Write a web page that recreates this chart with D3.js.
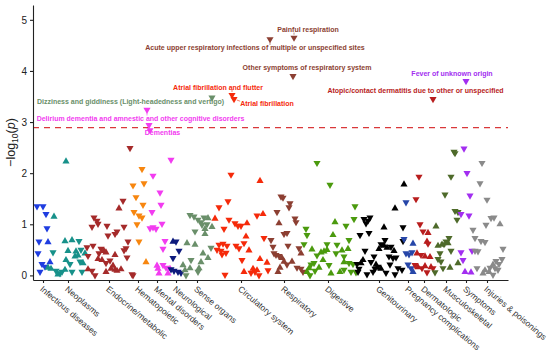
<!DOCTYPE html>
<html>
<head>
<meta charset="utf-8">
<script src="https://cdn.jsdelivr.net/npm/d3@7"></script>
<style>
  body { margin: 0; background: #ffffff; }
  svg { font-family: "Liberation Sans", Arial, sans-serif; }
</style>
</head>
<body>
<svg id="chart" width="550" height="356"></svg>
<script>
// Phenotype categories, colours and the order position of each category tick
var categories = ["Infectious diseases", "Neoplasms", "Endocrine/metabolic", "Hematopoietic",
    "Mental disorders", "Neurological", "Sense organs", "Circulatory system", "Respiratory",
    "Digestive", "Genitourinary", "Pregnancy complications", "Dermatologic", "Musculoskeletal",
    "Symptoms", "Injuries & poisonings"];
var catColors = ["#1f3de0", "#17918a", "#a52a2a", "#f7860f", "#f23cf0", "#0d1a7d", "#6a8f6a",
    "#f52a0a", "#8c3f32", "#4b9a0e", "#000000", "#2646a8", "#b81d1d", "#4e6a2a", "#a22ef0", "#8a8a8a"];
var catTicks = [10, 35, 76, 105, 124, 143, 164, 208, 251, 295, 346, 375, 391, 413, 433, 454];

// Points of each category: [phenotype order, -log10(p), direction (1 = up, 0 = down)]
var infectious = [[4,1.35,0],[10,1.35,0],[13,1.20,0],[14,0.92,0],[6,0.66,0],[15,0.65,1],[5,0.43,0],
    [9,0.22,0],[17,0.26,1],[12,0.17,0],[7,0.07,0]];
var neoplasms = [[33,2.23,1],[21,1.15,1],[20,0.45,0],[32,0.67,1],[39,0.69,1],[46,0.67,0],[35,0.48,1],
    [43,0.47,1],[48,0.50,0],[42,0.37,1],[45,0.39,1],[52,0.43,1],[33,0.30,1],[47,0.27,0],[37,0.22,0],
    [50,0.24,1],[18,0.13,1],[23,0.09,0],[27,0.04,0],[29,0.07,0],[32,0.11,1],[39,0.07,0],[49,0.07,0],
    [15,0.15,1],[25,0.02,1]];
var endocrine = [[97,2.49,0],[90,1.46,0],[86,1.31,1],[61,1.13,0],[64,1.07,0],[65,1.01,0],[74,0.97,0],
    [59,0.95,0],[91,0.95,0],[84,0.86,0],[82,0.81,0],[75,0.78,0],[95,0.66,0],[54,0.55,0],[60,0.58,0],
    [68,0.52,0],[71,0.48,1],[93,0.53,0],[91,0.49,0],[66,0.43,0],[73,0.45,1],[55,0.38,0],[82,0.40,1],
    [94,0.35,0],[65,0.32,1],[69,0.30,1],[77,0.29,0],[73,0.24,0],[80,0.19,1],[55,0.12,1],[59,0.09,0],
    [62,0.00,0],[73,0.07,1],[78,0.13,1],[82,0.11,1],[84,0.09,1],[88,0.12,1],[99,0.02,0],[100,0.00,0]];
var hematopoietic = [[109,2.08,0],[100,1.76,0],[111,1.80,0],[103,1.53,0],[110,1.38,0],[101,1.24,0],
    [106,1.17,0],[109,1.13,0],[104,1.00,0],[106,0.66,0],[113,0.26,1]];
var mental = [[114,3.24,0],[116,2.94,0],[117,2.84,0],[138,2.26,0],[120,1.95,0],[127,1.62,0],[128,1.38,0],
    [119,1.24,0],[129,1.01,0],[117,0.92,0],[120,0.94,0],[123,0.91,0],[132,0.67,0],[130,0.52,0],
    [124,0.19,1],[125,0.13,1],[133,0.15,0],[137,0.13,1],[126,0.04,1],[135,0.04,1],[130,0.20,0]];
var neurological = [[140,0.66,1],[143,0.66,0],[146,0.48,0],[140,0.34,0],[138,0.12,0],[141,0.09,0],
    [145,0.07,0],[148,0.05,0]];
var senseOrgans = [[179,3.48,0],[157,1.18,0],[161,1.15,0],[165,1.09,0],[168,1.04,0],[171,1.13,0],
    [175,1.12,1],[169,0.99,0],[174,1.00,0],[179,0.95,1],[172,0.91,1],[162,0.86,0],[172,0.81,1],
    [178,0.54,0],[170,0.43,1],[158,0.30,0],[168,0.26,1],[157,0.14,1],[166,0.14,1],[165,0.07,0],
    [154,0.63,1],[150,0.20,1],[152,0.10,1],[153,0.00,0],[162,0.60,1],[175,0.34,1]];
var circulatory = [[199,3.53,0],[201,3.45,0],[198,1.97,0],[227,1.85,1],[195,1.45,0],[186,1.33,0],
    [182,1.11,1],[196,1.09,0],[202,1.02,0],[208,0.97,0],[214,1.02,1],[224,1.17,0],[230,1.20,1],
    [191,0.91,0],[213,0.76,1],[231,0.73,0],[186,0.60,0],[190,0.62,0],[194,0.58,0],[203,0.58,0],
    [206,0.53,0],[211,0.63,0],[184,0.50,0],[188,0.48,0],[189,0.41,0],[193,0.44,0],[216,0.49,1],
    [227,0.32,1],[234,0.25,1],[220,0.13,1],[222,0.07,0],[224,0.10,1],[211,0.07,1],[192,0.01,0],
    [218,0.05,0],[235,0.10,0],[226,0.00,0],[209,0.30,0],[205,0.97,0]];
var respiratory = [[237,4.62,0],[261,4.65,0],[260,3.90,0],[248,1.54,0],[250,1.52,0],[257,1.41,0],
    [256,1.33,0],[244,1.24,0],[262,1.11,0],[263,1.04,0],[246,1.02,1],[251,0.81,0],[254,0.83,0],
    [238,0.69,0],[255,0.58,0],[241,0.43,0],[243,0.40,0],[246,0.38,0],[266,0.53,0],[268,0.43,1],
    [249,0.34,1],[251,0.27,1],[259,0.27,1],[254,0.21,0],[264,0.15,0],[268,0.13,0],[270,0.07,0],
    [245,0.07,1],[240,0.56,0],[247,0.15,1]];
var digestive = [[284,2.20,0],[297,1.77,0],[302,1.04,1],[273,0.91,0],[274,0.79,0],[300,0.79,1],
    [271,0.61,0],[294,0.61,0],[304,0.60,0],[279,0.51,1],[288,0.45,1],[291,0.47,1],[294,0.50,1],
    [303,0.43,0],[284,0.39,0],[290,0.30,1],[281,0.24,0],[278,0.21,0],[276,0.14,1],[274,0.07,1],
    [282,0.09,0],[286,0.15,1],[298,0.04,1],[307,0.07,1],[322,1.35,0],[321,1.10,0],[313,0.97,0],
    [316,0.69,0],[315,0.52,1],[309,0.49,1],[311,0.37,0],[311,0.26,1],[316,0.24,0],[320,0.22,0],
    [311,0.11,0],[318,0.07,0],[323,0.06,0],[296,0.20,0],[277,0.00,0]];
var genitourinary = [[371,1.78,1],[362,1.31,1],[331,1.10,0],[335,1.07,0],[337,1.13,0],[333,1.02,0],
    [351,0.94,1],[370,0.94,0],[327,0.79,0],[336,0.83,0],[352,0.69,0],[370,0.67,0],[348,0.61,0],
    [351,0.58,1],[354,0.54,1],[358,0.56,0],[346,0.52,1],[332,0.48,0],[361,0.48,1],[356,0.37,0],
    [360,0.34,0],[363,0.35,0],[341,0.37,0],[330,0.30,1],[338,0.26,0],[343,0.21,1],[345,0.17,0],
    [357,0.21,0],[365,0.14,0],[369,0.11,0],[324,0.22,0],[328,0.24,1],[326,0.13,0],[325,0.07,0],
    [340,0.07,0],[342,0.13,0],[348,0.13,1],[353,0.05,0],[362,0.02,0],[334,0.02,0]];
var pregnancy = [[373,1.43,0],[371,0.71,0],[380,0.62,1],[373,0.43,0],[376,0.41,0],[379,0.45,0],
    [375,0.21,0],[378,0.14,0],[380,0.07,1]];
var dermatologic = [[400,3.45,0],[386,1.93,0],[383,1.49,0],[387,1.00,0],[390,0.86,0],[395,0.83,1],
    [394,0.66,1],[395,0.62,0],[384,0.43,1],[392,0.37,1],[397,0.36,1],[388,0.40,0],[385,0.16,1],
    [389,0.14,0],[392,0.18,1],[398,0.16,1],[400,0.14,0],[382,0.20,0],[394,0.06,0]];
var musculoskeletal = [[421,2.42,0],[422,2.39,0],[418,1.93,0],[412,1.58,0],[422,1.26,0],[425,1.24,0],
    [424,1.09,0],[403,0.96,1],[416,0.73,0],[413,0.66,0],[411,0.61,0],[405,0.58,1],[409,0.60,1],
    [418,0.48,0],[407,0.43,0],[405,0.32,0],[408,0.27,0],[425,0.24,1],[417,0.15,1],[410,0.14,0],
    [402,0.06,0],[415,0.63,1]];
var symptoms = [[433,3.80,0],[431,2.48,0],[434,2.00,0],[437,1.56,0],[428,1.20,0],[436,1.17,0],
    [428,0.45,0],[439,0.48,0],[430,0.30,0],[432,0.07,1],[438,0.06,1]];
var injuries = [[449,2.20,0],[447,1.80,0],[454,1.48,0],[467,1.00,1],[458,1.12,0],[461,1.13,0],
    [453,0.99,0],[440,0.89,0],[442,0.73,0],[448,0.67,0],[452,0.65,0],[470,0.52,0],[442,0.48,0],
    [445,0.47,0],[469,0.32,0],[457,0.15,0],[460,0.21,1],[462,0.14,0],[465,0.11,0],[456,0.07,1],
    [444,0.14,0],[450,0.04,1],[460,0.01,0],[466,0.22,0],[463,0.28,0],[452,0.10,1]];
var pointSets = [infectious, neoplasms, endocrine, hematopoietic, mental, neurological, senseOrgans,
    circulatory, respiratory, digestive, genitourinary, pregnancy, dermatologic, musculoskeletal,
    symptoms, injuries];

var yTicks = [0, 1, 2, 3, 4, 5];
var threshold = 2.89;

// Labelled phenotypes: [text, category index, point index]
var annotations = [
    ["Painful respiration", 8, 1],
    ["Acute upper respiratory infections of multiple or unspecified sites", 8, 0],
    ["Other symptoms of respiratory system", 8, 2],
    ["Atrial fibrillation and flutter", 7, 0],
    ["Atrial fibrillation", 7, 1],
    ["Dizziness and giddiness (Light-headedness and vertigo)", 6, 0],
    ["Delirium dementia and amnestic and other cognitive disorders", 4, 0],
    ["Dementias", 4, 1],
    ["Fever of unknown origin", 14, 0],
    ["Atopic/contact dermatitis due to other or unspecified", 12, 0]
];
// Where each label sits, in data units: [order (centre), -log10(p) (baseline)]
var labelPos = [[275, 4.77], [222, 4.41], [274, 4.01], [185, 3.63], [234, 3.31],
    [97.5, 3.35], [107.5, 3.03], [129.5, 2.74], [419, 3.91], [382.5, 3.56]];

// Chart set up
var svg = d3.select("#chart");
var x = d3.scaleLinear().domain([0, 475]).range([33, 508]);
var y = d3.scaleLinear().domain([-0.09, 5.29]).range([280, 5]);

svg.append("rect").attr("width", 550).attr("height", 356).attr("fill", "#ffffff");

// Significance threshold
svg.append("line")
    .attr("x1", x(0)).attr("x2", x(475))
    .attr("y1", y(threshold)).attr("y2", y(threshold))
    .attr("stroke", "#d9383a")
    .attr("stroke-width", 1.2)
    .attr("stroke-dasharray", "6,5");

// Triangles
var tri = d3.symbol().type(d3.symbolTriangle).size(22);
pointSets.forEach(function(set, c) {
    svg.append("g").selectAll("path")
        .data(set)
        .join("path")
        .attr("d", tri)
        .attr("fill", catColors[c])
        .attr("transform", function(d) {
            return "translate(" + x(d[0]) + "," + y(d[1]) + ")" + (d[2] ? "" : " rotate(180)");
        });
});

// Annotation labels with short leader segments
var labels = svg.append("g");
annotations.forEach(function(a, i) {
    var p = pointSets[a[1]][a[2]];
    var col = catColors[a[1]];
    var t = labels.append("text")
        .attr("x", x(labelPos[i][0]))
        .attr("y", y(labelPos[i][1]))
        .attr("text-anchor", "middle")
        .attr("font-size", 7)
        .attr("font-weight", "bold")
        .attr("fill", col)
        .text(a[0]);
    var b = t.node().getBBox();
    var px = x(p[0]), py = y(p[1]);
    var cx = Math.max(b.x, Math.min(px, b.x + b.width));
    var cy = Math.max(b.y + 1, Math.min(py, b.y + b.height - 1));
    var dist = Math.hypot(px - cx, py - cy);
    if (dist > 5) {
        var k = (dist - 3) / dist;
        labels.append("line")
            .attr("x1", cx).attr("y1", cy)
            .attr("x2", cx + (px - cx) * k).attr("y2", cy + (py - cy) * k)
            .attr("stroke", col)
            .attr("stroke-width", 0.6);
    }
});

// Y axis
var yAxis = svg.append("g")
    .attr("transform", "translate(" + x(0) + ",0)")
    .call(d3.axisLeft(y).tickValues(yTicks).tickFormat(d3.format("d"))
        .tickSize(3).tickSizeOuter(0).tickPadding(3));
yAxis.selectAll("text").attr("font-size", 10).attr("fill", "#222");
yAxis.selectAll("line, path").attr("stroke", "#222").attr("stroke-width", 1.1);

// X axis with rotated category labels
var xAxis = svg.append("g")
    .attr("transform", "translate(0," + y(-0.09) + ")")
    .call(d3.axisBottom(x).tickValues(catTicks).tickSize(3).tickSizeOuter(0)
        .tickFormat(function(d, i) { return categories[i]; }));
xAxis.selectAll("line, path").attr("stroke", "#222").attr("stroke-width", 1.1);
xAxis.selectAll("text")
    .attr("font-size", 8.5)
    .attr("fill", "#333")
    .attr("text-anchor", "start")
    .attr("x", 0).attr("y", 0).attr("dy", 0)
    .attr("transform", "translate(-4,10) rotate(40)");

// Y axis title: -log10(p)
var title = svg.append("text")
    .attr("transform", "translate(15," + y(2.6) + ") rotate(-90)")
    .attr("text-anchor", "middle")
    .attr("font-size", 12.5)
    .attr("fill", "#222");
title.append("tspan").text("\u2212log");
title.append("tspan").attr("font-size", 8.5).attr("dy", 3).text("10");
title.append("tspan").attr("dy", -3).text("(");
title.append("tspan").attr("font-style", "italic").text("p");
title.append("tspan").text(")");
</script>
</body>
</html>
